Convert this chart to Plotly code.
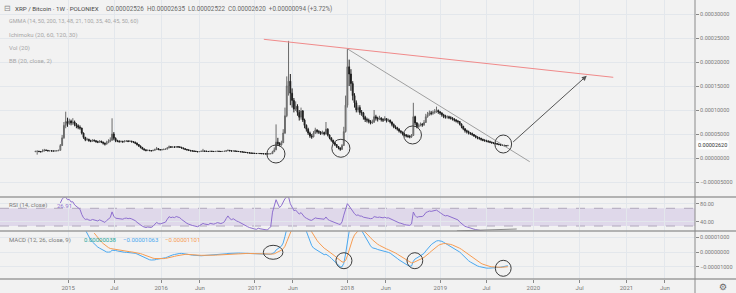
import numpy as np
import pandas as pd
import plotly.graph_objects as go

# ---------------- data (weekly XRP/BTC, values in satoshi = 1e-8 BTC) ----------------
START = "2014-08-25"
FIRST_OPEN = 1300

close_sat = [
    1380, 1420, 1350, 1300, 1450, 1650, 1600, 1480, 1500, 1470, 1450, 1480, 1500,
    1600, 2600, 4200, 6800, 7600, 7200, 7700, 7300, 7500, 7000, 6700, 6400, 6250,
    5200, 4300, 3800, 3900, 3600, 3500, 3700, 3600, 3400, 3300, 3500, 3300, 3100, 2900, 3200, 3500, 3700, 5000, 4100, 3600,
    3500, 3400, 3450, 3350, 3500, 3550, 3450, 3500, 3400, 3300, 3100,
    2800, 2500, 2200, 1900, 1700, 1550, 1600,
    1550, 1500, 1600, 1750, 1950, 1750, 1700, 1750, 1800, 1850, 2100, 2350, 2250, 2300, 2250, 2350, 2300, 2250,
    2100, 1950, 1800, 1700, 1600, 1500, 1450, 1400, 1350, 1300, 1350, 1400, 1450, 1400,
    1380, 1350, 1400, 1380, 1350, 1370, 1400, 1380, 1350, 1370, 1400, 1500, 1600, 1500, 1450, 1480, 1420, 1380, 1350, 1300, 1250, 1200, 1150, 1100, 1050,
    1000, 980, 950, 930, 950, 920, 900, 880, 860, 850, 870, 900,
    1300, 1700, 3300, 3000, 2700, 3200, 5200, 8800, 15000, 16000, 13500, 12000, 10200, 10800, 9500, 8500, 9800, 7900, 6800, 6000,
    5200, 4600, 4400, 5200, 5800, 5500, 5400, 5100, 5300, 5000, 6000, 4800, 4200, 3700, 3200, 2800, 2400, 2100, 1800,
    2600, 5500, 11000, 19000, 17500, 15500, 13000, 11500, 10000, 10500, 9500, 9400, 8500, 8000, 7900, 7600, 7300, 7500, 8600, 8300,
    8100, 8300, 8000, 7900, 8200, 7800, 7900, 7500, 7000, 6500, 6300, 6000, 5600, 5400, 5000, 4800, 4600, 4500, 4400, 4700,
    8600, 7300, 6500, 6800, 7000, 6900, 7400, 8600, 9000, 9400, 9300, 9500, 9700, 9900, 9600, 9400, 9000, 8700, 8500, 8600,
    8400, 8300, 8100, 7900, 7700, 7600, 7100, 6600, 6100, 5700, 5500, 5200, 5100, 4900, 4600, 4400, 4200, 4100, 3900, 3700,
    3600, 3500, 3400, 3300, 3150, 3100, 3000, 2900, 2800, 2700, 2650, 2550, 2526, 2620,
]
high_sat = [
    1500, 1550, 1480, 1420, 1800, 1900, 1720, 1650, 1600, 1560, 1530, 1560, 1620,
    1700, 2900, 4800, 7500, 9650, 8400, 8200, 8000, 8300, 7800, 7300, 7000, 6800,
    6300, 5300, 4400, 4200, 4000, 3800, 3900, 3850, 3700, 3600, 3700, 3600, 3400, 3200, 3600, 3900, 4300, 8270, 5400, 4300,
    3800, 3700, 3650, 3600, 3700, 3750, 3700, 3700, 3600, 3500, 3400,
    3200, 2900, 2600, 2300, 2000, 1800, 1750,
    1700, 1650, 1700, 1950, 2300, 2050, 1850, 1900, 1950, 2000, 2300, 2600, 2450, 2450, 2400, 2500, 2450, 2400,
    2300, 2150, 2000, 1850, 1750, 1650, 1600, 1550, 1500, 1450, 1450, 1550, 1900, 1550,
    1500, 1450, 1500, 1480, 1450, 1470, 1500, 1480, 1450, 1460, 1500, 1650, 1750, 1650, 1550, 1580, 1520, 1480, 1450, 1400, 1350, 1300, 1250, 1200, 1150,
    1100, 1080, 1050, 1020, 1040, 1000, 980, 960, 940, 930, 950, 1000,
    1500, 2200, 7000, 4200, 3300, 3600, 6000, 10500, 17000, 24400, 17500, 14500, 12500, 11800, 11200, 10000, 10500, 10000, 8200, 7000,
    6300, 5500, 5000, 5600, 6300, 6000, 5800, 5600, 5700, 5500, 7500, 6200, 4900, 4300, 3800, 3300, 2900, 2500, 2200,
    2900, 6500, 13000, 22700, 20500, 18500, 16000, 13500, 12000, 11000, 11000, 10000, 9600, 8800, 8400, 8200, 7900, 8000, 10000, 9000,
    8600, 8800, 8500, 8300, 8700, 8300, 8200, 8000, 7600, 7200, 6800, 6500, 6200, 5800, 5500, 5200, 5000, 4900, 4800, 5000,
    11500, 8800, 7500, 7200, 7400, 7300, 7900, 9200, 9600, 9900, 9800, 9900, 10200, 10700, 10100, 9800, 9500, 9200, 9000, 8900,
    8800, 8700, 8500, 8300, 8100, 7900, 7700, 7200, 6700, 6200, 5900, 5700, 5400, 5300, 5000, 4800, 4500, 4400, 4200, 4000,
    3900, 3800, 3700, 3600, 3400, 3300, 3200, 3100, 3000, 2900, 2850, 2750, 2650, 2635,
]
low_sat = [
    1250, 700, 1200, 1150, 1280, 1400, 1450, 1400, 1420, 1400, 1380, 1400, 1420,
    1450, 1550, 2500, 4000, 6200, 6500, 6900, 6800, 6900, 6600, 6200, 6000, 5900,
    4900, 4000, 3500, 3600, 3400, 3300, 3400, 3400, 3200, 3100, 3200, 3100, 2800, 2600, 2800, 3100, 3300, 3600, 3700, 3300,
    3300, 3200, 3250, 3200, 3300, 3350, 3300, 3350, 3200, 3100, 2900,
    2600, 2300, 2000, 1750, 1550, 1400, 1450,
    1420, 1380, 1450, 1550, 1700, 1650, 1600, 1600, 1650, 1700, 1800, 2050, 2100, 2150, 2100, 2200, 2150, 2100,
    1950, 1800, 1650, 1550, 1450, 1400, 1350, 1300, 1250, 1200, 1250, 1300, 1300, 1300,
    1280, 1250, 1300, 1280, 1250, 1280, 1300, 1280, 1260, 1280, 1300, 1350, 1450, 1400, 1350, 1380, 1320, 1280, 1250, 1200, 1150, 1100, 1050, 1000, 950,
    900, 880, 860, 850, 860, 840, 820, 800, 780, 770, 790, 820,
    850, 1250, 1650, 2500, 2400, 2600, 3100, 5000, 8500, 13000, 11000, 10500, 9500, 9800, 8800, 7800, 8000, 7500, 6200, 5500,
    4800, 4200, 4000, 4300, 5000, 5100, 5000, 4800, 4900, 4700, 4900, 4500, 3900, 3400, 2900, 2500, 2100, 1800, 1500,
    1700, 2500, 5300, 10500, 15000, 14000, 12000, 10500, 9500, 9500, 9000, 8800, 8000, 7500, 7400, 7200, 7000, 7100, 7300, 7800,
    7600, 7900, 7600, 7500, 7700, 7400, 7500, 7200, 6600, 6200, 6000, 5700, 5300, 5100, 4700, 4500, 4300, 4200, 4100, 4200,
    4600, 6800, 6200, 6300, 6600, 6500, 6700, 7300, 8400, 8800, 8900, 9000, 9200, 9400, 9200, 9000, 8600, 8300, 8200, 8200,
    8100, 8000, 7800, 7600, 7400, 7200, 6800, 6200, 5800, 5300, 5100, 4900, 4800, 4600, 4400, 4100, 3900, 3800, 3600, 3500,
    3400, 3300, 3200, 3100, 3000, 2900, 2850, 2750, 2650, 2550, 2500, 2450, 2420, 2522,
]
assert len(close_sat) == len(high_sat) == len(low_sat)

time_tick_dates = ["2015-01-01", "2015-07-01", "2016-01-01", "2016-06-01", "2017-01-01", "2017-06-01",
                   "2018-01-01", "2018-06-01", "2019-01-01", "2019-07-01", "2020-01-01", "2020-07-01",
                   "2021-01-01", "2021-06-01"]
time_tick_text = ["2015", "Jul", "2016", "Jun", "2017", "Jun", "2018", "Jun", "2019", "Jul", "2020", "Jul", "2021", "Jun"]
price_ticks = [-0.00005, 0.0, 0.00005, 0.0001, 0.00015, 0.0002, 0.00025, 0.0003]
rsi_ticks = [40, 80]
macd_ticks = [-0.00001, 0.0, 0.00001]

# ---------------- series ----------------
dates = pd.date_range(START, periods=len(close_sat), freq="7D")
c = pd.Series(close_sat, dtype=float) / 1e8
h = pd.Series(high_sat, dtype=float) / 1e8
l = pd.Series(low_sat, dtype=float) / 1e8
o = pd.Series([FIRST_OPEN] + close_sat[:-1], dtype=float) / 1e8


def seeded_ma(values, n, alpha):
    """Exponential average seeded with a simple mean (TradingView style)."""
    v = np.asarray(values, dtype=float)
    out = np.full(len(v), np.nan)
    valid = np.where(~np.isnan(v))[0]
    if len(valid) < n:
        return out
    f = valid[0]
    k = f + n - 1
    out[k] = np.mean(v[f:k + 1])
    for i in range(k + 1, len(v)):
        out[i] = alpha * v[i] + (1 - alpha) * out[i - 1]
    return out


cv = c.values
delta = np.diff(cv, prepend=np.nan)
up = np.where(np.isnan(delta), np.nan, np.clip(delta, 0, None))
dn = np.where(np.isnan(delta), np.nan, np.clip(-delta, 0, None))
au = seeded_ma(up, 14, 1 / 14)
ad = seeded_ma(dn, 14, 1 / 14)
rsi = 100 - 100 / (1 + au / ad)

ema12 = seeded_ma(cv, 12, 2 / 13)
ema26 = seeded_ma(cv, 26, 2 / 27)
macd = ema12 - ema26
signal = seeded_ma(macd, 9, 2 / 10)

# ---------------- layout geometry ----------------
W, H = 736, 293
ML, MR, MT, MB = 0, 41, 0, 14
PW, PH = W - ML - MR, H - MT - MB


def pyf(p):
    return 1 - p / PH


def pxf(p):
    return p / PW


BG = "#f2f2f2"
GRID = "#e3e7ec"
AXT = "#7a7a7a"

fig = go.Figure()
fig.add_trace(go.Candlestick(
    x=dates, open=o, high=h, low=l, close=c, xaxis="x", yaxis="y",
    increasing=dict(line=dict(color="#6a6a6a", width=1), fillcolor="#9a9a9a"),
    decreasing=dict(line=dict(color="#1e1e1e", width=1), fillcolor="#1e1e1e"),
    whiskerwidth=0, showlegend=False, hoverinfo="skip"))

fig.add_trace(go.Scatter(x=dates, y=rsi, xaxis="x2", yaxis="y2", mode="lines",
                         line=dict(color="#8e6fcf", width=1), showlegend=False, hoverinfo="skip"))
fig.add_trace(go.Scatter(x=dates, y=macd, xaxis="x3", yaxis="y3", mode="lines",
                         line=dict(color="#4aa8f0", width=1), showlegend=False, hoverinfo="skip"))
fig.add_trace(go.Scatter(x=dates, y=signal, xaxis="x3", yaxis="y3", mode="lines",
                         line=dict(color="#f79c52", width=1), showlegend=False, hoverinfo="skip"))

x_range = ["2014-04-08", "2021-09-27"]
xcommon = dict(type="date", range=x_range, tickvals=time_tick_dates, ticktext=time_tick_text,
               showgrid=True, gridcolor=GRID, gridwidth=1, zeroline=False, showline=False,
               rangeslider=dict(visible=False), fixedrange=True)
ycommon = dict(side="right", showgrid=True, gridcolor=GRID, gridwidth=1, zeroline=False,
               showline=False, ticks="outside", ticklen=3, tickcolor="#888",
               tickfont=dict(family="Roboto", size=5.5, color=AXT), fixedrange=True)

fig.update_layout(
    width=W, height=H, margin=dict(l=ML, r=MR, t=MT, b=MB),
    paper_bgcolor=BG, plot_bgcolor=BG, showlegend=False, hovermode=False,
    font=dict(family="Roboto", color=AXT),
    xaxis=dict(**xcommon, anchor="y", domain=[0, 1], showticklabels=False),
    xaxis2=dict(**xcommon, anchor="y2", domain=[0, 1], matches="x", showticklabels=False),
    xaxis3=dict(**xcommon, anchor="y3", domain=[0, 1], matches="x", showticklabels=True,
                ticks="outside", ticklen=3, tickcolor="#888",
                tickfont=dict(family="Roboto", size=6, color=AXT)),
    yaxis=dict(**ycommon, anchor="x", domain=[pyf(197), 1], range=[-0.00008125, 0.00032917],
               tickvals=price_ticks, tickformat=".8f"),
    yaxis2=dict(**ycommon, anchor="x2", domain=[pyf(231), pyf(197)], range=[18.7, 95.5],
                tickvals=rsi_ticks, tickformat=".2f"),
    yaxis3=dict(**ycommon, anchor="x3", domain=[0, pyf(231)], range=[-1.843e-5, 1.433e-5],
                tickvals=macd_ticks, tickformat=".8f"),
)

shapes = []
# RSI band
shapes.append(dict(type="rect", xref="x2 domain", yref="y2", x0=0, x1=1, y0=30, y1=70,
                   fillcolor="rgba(149,117,205,0.20)", line=dict(width=0), layer="below"))
for lv in (30, 70):
    shapes.append(dict(type="line", xref="x2 domain", yref="y2", x0=0, x1=1, y0=lv, y1=lv,
                       line=dict(color="#b0a8bc", width=1, dash="dash"), layer="below"))
# pane separators and price-scale line
for p in (197, 231, PH):
    shapes.append(dict(type="line", xref="paper", yref="paper", x0=0, x1=W / PW, y0=pyf(p), y1=pyf(p),
                       line=dict(color="#9c9c9c", width=1.5)))
shapes.append(dict(type="line", xref="paper", yref="paper", x0=1, x1=1, y0=-MB / PH, y1=1,
                   line=dict(color="#8a8a8a", width=1)))

# user drawings on price pane
shapes.append(dict(type="line", xref="x", yref="y", x0="2017-02-07", y0=0.0002473,
                   x1="2020-11-10", y1=0.0001681, line=dict(color="#f08a8a", width=1)))
shapes.append(dict(type="line", xref="x", yref="y", x0="2018-01-02", y0=0.0002271,
                   x1="2019-12-18", y1=-0.0000077, line=dict(color="#a0a0a0", width=1)))
circ_main = [("2017-02-19", "2017-05-01", -0.0000104, 0.0000271),
             ("2017-11-01", "2018-01-11", 0.0000015, 0.0000390),
             ("2018-08-10", "2018-10-19", 0.0000292, 0.0000667),
             ("2019-08-03", "2019-10-08", 0.0000104, 0.0000479)]
for x0, x1, y0, y1 in circ_main:
    shapes.append(dict(type="circle", xref="x", yref="y", x0=x0, x1=x1, y0=y0, y1=y1,
                       line=dict(color="#3c3c3c", width=1)))
circ_macd = [("2017-02-05", "2017-04-23", -0.498e-5, 0.457e-5),
             ("2017-11-17", "2018-01-19", -1.14e-5, -0.048e-5),
             ("2018-08-23", "2018-10-24", -1.14e-5, -0.048e-5),
             ("2019-08-05", "2019-10-06", -1.659e-5, -0.567e-5)]
for x0, x1, y0, y1 in circ_macd:
    shapes.append(dict(type="circle", xref="x3", yref="y3", x0=x0, x1=x1, y0=y0, y1=y1,
                       line=dict(color="#3c3c3c", width=1)))
shapes.append(dict(type="line", xref="x2", yref="y2", x0="2019-03-07", y0=19.0,
                   x1="2019-10-28", y1=23.2, line=dict(color="#8a8a8a", width=1)))
fig.update_layout(shapes=shapes)

ann = []
# arrow
ann.append(dict(xref="x", yref="y", axref="x", ayref="y", x="2020-07-29", y=0.0001715,
                ax="2019-10-08", ay=0.0000306, showarrow=True, arrowhead=2, arrowsize=1,
                arrowwidth=1, arrowcolor="#555555", text=""))


def txt(x, y, s, size, color, anchor="left"):
    ann.append(dict(xref="paper", yref="paper", x=pxf(x), y=pyf(y), text=s, showarrow=False,
                    xanchor=anchor, yanchor="middle", font=dict(family="Roboto", size=size, color=color)))


txt(2, 9, "⊟", 8, "#8a8a8a")
txt(13, 9, "XRP / Bitcoin · 1W · POLONIEX", 6.2, "#4a4a4a")
txt(104, 9, "O0.00002526  H0.00002635  L0.00002522  C0.00002620  +0.00000094 (+3.72%)", 6.3, "#6a6a6a")
txt(7, 22, "GMMA (14, 50, 200, 13, 48, 21, 100, 35, 40, 45, 50, 60)", 5.5, "#a6a6a6")
txt(7, 35, "Ichimoku (20, 60, 120, 30)", 6, "#a6a6a6")
txt(7, 48, "Vol (20)", 6, "#a6a6a6")
txt(7, 61, "BB (20, close, 2)", 6, "#a6a6a6")
txt(7, 205, "RSI (14, close)", 6, "#7a7a7a")
txt(55, 205, "26.91", 6, "#8e6fcf")
txt(7, 239.5, "MACD (12, 26, close, 9)", 6, "#7a7a7a")
txt(82, 239.5, "0.00000038", 6, "#26a69a")
txt(121, 239.5, "−0.00001063", 6, "#4aa8f0")
txt(163, 239.5, "−0.00001101", 6, "#f79c52")
ann.append(dict(xref="paper", yref="paper", x=pxf(723), y=pyf(287), text="⚙", showarrow=False,
                font=dict(family="DejaVu Sans", size=9, color="#666"), xanchor="center", yanchor="middle"))
# last price label
ann.append(dict(xref="paper", yref="y", x=1.0, y=float(c.iloc[-1]), text="0.00002620", showarrow=False,
                xanchor="left", yanchor="middle", xshift=1, bgcolor="#ffffff", borderpad=1,
                font=dict(family="Roboto", size=5.5, color="#333333")))
fig.update_layout(annotations=ann)

fig.write_html("out.html")
